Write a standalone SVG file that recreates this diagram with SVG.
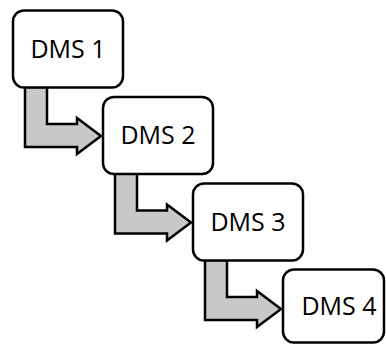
<svg xmlns="http://www.w3.org/2000/svg" width="386" height="345" viewBox="0 0 386 345">
<style>
.box{fill:#fff;stroke:#000;stroke-width:2.5}
.arr{fill:#c8c8c8;stroke:#000;stroke-width:2.5;stroke-linejoin:miter}
.lbl{font-family:"Open Sans","Liberation Sans",sans-serif;font-size:25px;fill:#000;text-anchor:middle}
</style>
<rect width="386" height="345" fill="#fff"/>
<defs>
<polygon id="arrowshape" points="25,87 47,87 47,124 77,124 77,118 101,136 77,154 77,147 25,147"/>
</defs>
<g id="connectors">
<use href="#arrowshape" class="arr"/>
<use href="#arrowshape" class="arr" transform="translate(90,86.5)"/>
<use href="#arrowshape" class="arr" transform="translate(180,173)"/>
</g>
<g id="dms1"><rect class="box" x="13" y="10.5" width="110" height="77" rx="11"/><text class="lbl" x="68" y="57.5">DMS 1</text></g>
<g id="dms2"><rect class="box" x="103" y="97" width="110" height="77" rx="11"/><text class="lbl" x="158" y="144">DMS 2</text></g>
<g id="dms3"><rect class="box" x="193" y="183.5" width="110" height="77" rx="11"/><text class="lbl" x="248" y="230.5">DMS 3</text></g>
<g id="dms4"><rect class="box" x="283" y="269.5" width="101" height="73" rx="11"/><text class="lbl" x="339" y="315">DMS 4</text></g>
</svg>
